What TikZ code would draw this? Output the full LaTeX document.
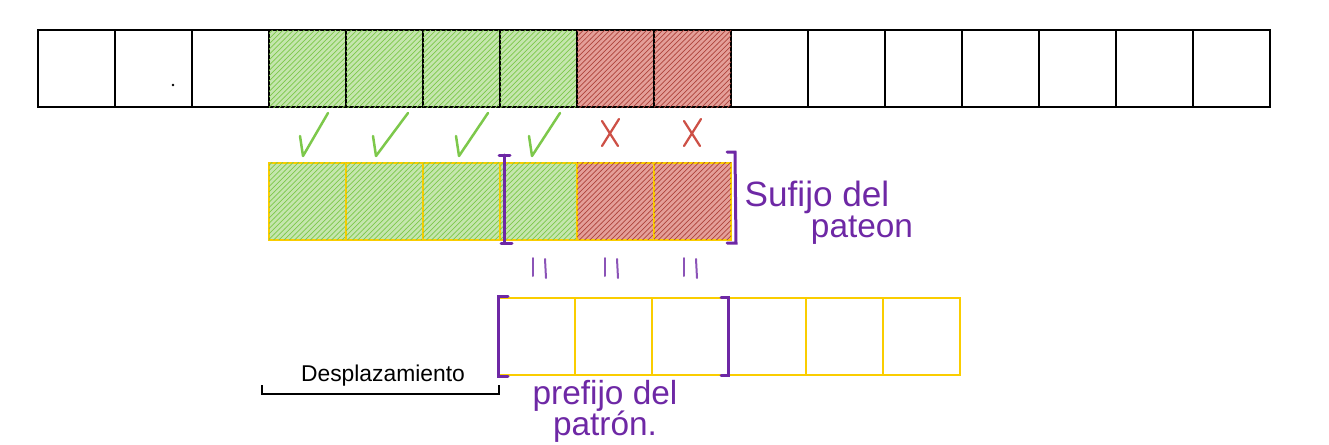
\documentclass[tikz,border=0pt]{standalone}
\usepackage{fontspec}
\setmainfont{Liberation Sans}
\usetikzlibrary{patterns}
\definecolor{okgreen}{RGB}{125,200,75}
\definecolor{badred}{RGB}{205,80,70}
\definecolor{celly}{RGB}{250,205,0}
\definecolor{brack}{RGB}{110,40,165}
\tikzset{
	cell/.style={draw=black,line width=0.4mm,minimum width=15.4mm,minimum height=15.4mm,inner sep=0pt},
	ycell/.style={cell,draw=celly},
	okfill/.style={fill=okgreen!45,postaction={pattern=north east lines,pattern color=okgreen}},
	badfill/.style={fill=badred!55,postaction={pattern=north east lines,pattern color=badred!85!black}},
	tick/.style={okgreen,line width=0.5mm,line cap=round,line join=round},
	cross/.style={badred,line width=0.45mm,line cap=round},
	brk/.style={brack,line width=0.6mm,line cap=round},
	eqbar/.style={brack!80,line width=0.4mm,line cap=round},
	hand/.style={inner sep=0pt}
}
\begin{document}
\begin{tikzpicture}[x=0.2mm,y=-0.2mm]
\useasboundingbox (0,0) rectangle (1329,445);
% text row
\foreach \i in {0,...,15} \node[cell] (t\i) at (76.5+77*\i,68.5) {};
\foreach \i in {3,...,6} \node[cell,okfill] at (t\i) {};
\foreach \i in {7,8} \node[cell,badfill] at (t\i) {};
\fill (173,85) circle (1.3);
% pattern, first place
\foreach \i in {0,...,3} \node[ycell,okfill] (m\i) at (307.5+77*\i,201) {};
\foreach \i in {4,5} \node[ycell,badfill] (m\i) at (307.5+77*\i,201) {};
% pattern, shifted
\foreach \i in {0,...,5} \node[ycell] (p\i) at (536.5+77*\i,336) {};

% checks and crosses
\foreach \x/\tx in {301/328,374/408,457/488,530/560}
	\draw[tick] (\x-1,136) -- (\x+2,156) -- (\tx,113);
\foreach \x in {610,692}{
	\draw[cross] (\x-8,121) -- (\x+8,146);
	\draw[cross] (\x+9,119) -- (\x-8,146);
}

% brackets
\draw[brk] (499,155) -- (510,155) (504,155) -- (504,243) (501,243) -- (512,243);
\draw[brk] (727,152) -- (735,152) -- (736,243) -- (727,243);
\draw[brk] (508,296) -- (498,296) -- (498,376) -- (508,376);
\draw[brk] (721,297) -- (728,297) -- (728,375) -- (721,375);

% equal signs
\foreach \x in {533,605,684}{
	\draw[eqbar] (\x,258) -- (\x,276);
	\draw[eqbar] (\x+12,259) -- (\x+13,278);
}

\node[hand,brack] (suf1) at (817,197) {\fontsize{20}{22}\selectfont Sufijo del};
\node[hand,brack] (suf2) at (862,230) {\fontsize{19}{22}\selectfont pateon};
\node[hand,brack] (pre1) at (605,396) {\fontsize{19}{21}\selectfont prefijo del};
\node[hand,brack] (pre2) at (605,427) {\fontsize{19}{21}\selectfont patrón.};

\node[hand] (des) at (383,376) {\fontsize{13}{15}\selectfont Desplazamiento};
\draw[line width=0.35mm] (262,385) -- (262,394) -- (499,394) -- (499,385);
\end{tikzpicture}
\end{document}
